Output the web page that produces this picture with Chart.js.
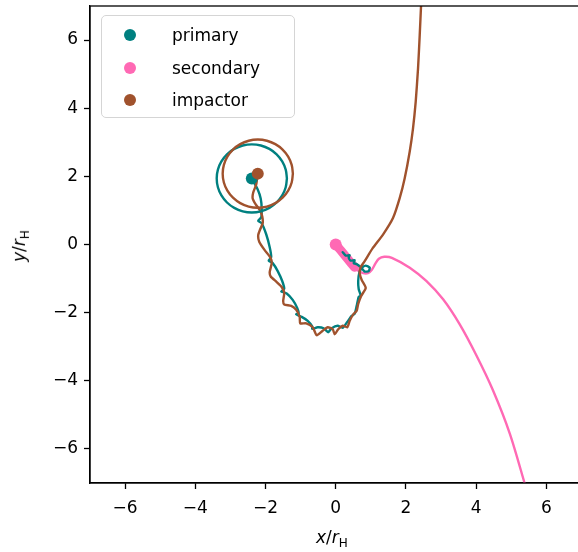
<!DOCTYPE html>
<html>
<head>
<meta charset="utf-8">
<script src="https://cdn.jsdelivr.net/npm/chart.js@4.4.1/dist/chart.umd.min.js"></script>
<style>
  html, body { margin: 0; padding: 0; background: #fff; overflow: hidden; }
  #wrap { position: relative; width: 578px; height: 552px; overflow: hidden; }
  #c { display: block; }
  #legend {
    position: absolute; left: 101px; top: 15px; width: 192px; height: 101px;
    border: 1px solid #d5d5d5; border-radius: 5px; background: rgba(255,255,255,0.85);
    font-family: 'DejaVu Sans', sans-serif; font-size: 17px; color: #000;
  }
  .row { position: absolute; left: 0; height: 24px; line-height: 24px; }
  .dot { position: absolute; left: 22px; top: 6px; width: 12px; height: 12px; border-radius: 50%; }
  .txt { position: absolute; left: 70px; top: 0; white-space: nowrap; }
  .axlabel {
    position: absolute; font-family: 'DejaVu Sans', sans-serif; font-size: 17px; color: #000;
    white-space: nowrap; line-height: 20px;
  }
  .axlabel i { font-style: italic; }
  .axlabel sub { font-size: 12px; vertical-align: -4px; font-style: normal; }
</style>
</head>
<body>
<div id="wrap">
  <canvas id="c" width="600" height="552"></canvas>
  <div id="legend"></div>
  <div class="axlabel" id="xlab" style="left:316px; top:527px;"><i>x</i>/<i>r</i><sub>H</sub></div>
  <div class="axlabel" id="ylab" style="left:6px; top:233px; transform: rotate(-90deg);"><i>y</i>/<i>r</i><sub>H</sub></div>
</div>
<script>
// series names and colours
const names = ['primary', 'secondary', 'impactor']
const colors = ['#008080', '#ff69b4', '#a0522d']

// tick values
const xTicks = [-6, -4, -2, 0, 2, 4, 6]
const yTicks = [-6, -4, -2, 0, 2, 4, 6]

// final positions
const primaryEnd = [[-2.39, 1.94]]
const secondaryEnd = [[0, 0]]
const impactorEnd = [[-2.22, 2.08]]

// primary track
const primaryPath = [
  [-2.393, 1.936], [-2.222, 1.615], [-2.137, 1.352], [-2.108, 1.060], [-2.123, 0.797],
  [-2.208, 0.695], [-2.108, 0.622], [-1.980, 0.301], [-1.880, -0.079], [-1.838, -0.371],
  [-1.909, -0.473], [-1.795, -0.546], [-1.652, -0.780], [-1.524, -1.072], [-1.467, -1.305],
  [-1.553, -1.378], [-1.396, -1.436], [-1.225, -1.626], [-1.097, -1.860], [-1.054, -2.020],
  [-1.125, -2.050], [-0.969, -2.123], [-0.798, -2.239], [-0.670, -2.400], [-0.670, -2.473],
  [-0.513, -2.429], [-0.342, -2.458], [-0.214, -2.575], [-0.114, -2.458], [0.057, -2.385],
  [0.199, -2.444], [0.313, -2.298], [0.456, -2.093], [0.541, -2.035], [0.598, -1.801],
  [0.655, -1.539], [0.712, -1.509], [0.655, -1.305], [0.641, -1.072], [0.670, -0.838],
  [0.741, -0.692], [0.855, -0.619], [0.969, -0.677], [0.940, -0.780], [0.826, -0.794],
  [0.712, -0.663], [0.598, -0.575], [0.513, -0.546], [0.541, -0.458], [0.427, -0.473],
  [0.370, -0.385], [0.399, -0.312], [0.285, -0.327], [0.199, -0.225]
]

// impactor track
const impactorPath = [
  [-2.222, 2.082], [-2.265, 1.761], [-2.350, 1.527], [-2.365, 1.352], [-2.279, 1.177],
  [-2.165, 1.016], [-2.094, 0.826], [-2.080, 0.622], [-2.151, 0.447], [-2.208, 0.272],
  [-2.179, 0.082], [-2.023, -0.166], [-1.866, -0.371], [-1.823, -0.546], [-1.880, -0.809],
  [-1.852, -0.940], [-1.681, -1.101], [-1.538, -1.247], [-1.467, -1.422], [-1.496, -1.655],
  [-1.467, -1.758], [-1.268, -1.801], [-1.125, -1.918], [-1.026, -2.123], [-1.011, -2.312],
  [-0.840, -2.312], [-0.655, -2.429], [-0.541, -2.663], [-0.370, -2.531], [-0.228, -2.429],
  [-0.085, -2.488], [-0.028, -2.634], [0.071, -2.488], [0.199, -2.385], [0.328, -2.429],
  [0.399, -2.239], [0.499, -2.050], [0.598, -1.947], [0.641, -1.743], [0.726, -1.509],
  [0.855, -1.276], [0.741, -1.042], [0.684, -0.838], [0.712, -0.663], [0.826, -0.488],
  [1.054, -0.108], [1.348, 0.292], [1.632, 0.777], [1.823, 1.361], [1.966, 1.945],
  [2.108, 2.724], [2.202, 3.404], [2.279, 4.184], [2.345, 5.156], [2.393, 6.131], [2.436, 7.104]
]

// secondary track: dense early part and escape
const secondaryBlob = [[0, 0], [0.15, -0.18], [0.30, -0.37], [0.45, -0.56], [0.54, -0.67]]
const secondaryPath = [
  [0.54, -0.67], [0.66, -0.78], [0.78, -0.84], [0.92, -0.84], [1.03, -0.74], [1.13, -0.56],
  [1.23, -0.42], [1.38, -0.36], [1.60, -0.39], [2.11, -0.68], [2.58, -1.07], [3.06, -1.61],
  [3.53, -2.34], [4.01, -3.26], [4.48, -4.28], [4.96, -5.55], [5.38, -7.00], [5.43, -7.2]
]

// Hill circles around final positions
const primaryHill = [
  [-1.39, 1.94], [-1.424, 2.199], [-1.524, 2.44], [-1.683, 2.647], [-1.89, 2.806], [-2.131, 2.906],
  [-2.39, 2.94], [-2.649, 2.906], [-2.89, 2.806], [-3.097, 2.647], [-3.256, 2.44], [-3.356, 2.199],
  [-3.39, 1.94], [-3.356, 1.681], [-3.256, 1.44], [-3.097, 1.233], [-2.89, 1.074], [-2.649, 0.974],
  [-2.39, 0.94], [-2.131, 0.974], [-1.89, 1.074], [-1.683, 1.233], [-1.524, 1.44], [-1.424, 1.681],
  [-1.39, 1.94]
]
const impactorHill = [
  [-1.22, 2.08], [-1.254, 2.339], [-1.354, 2.58], [-1.513, 2.787], [-1.72, 2.946], [-1.961, 3.046],
  [-2.22, 3.08], [-2.479, 3.046], [-2.72, 2.946], [-2.927, 2.787], [-3.086, 2.58], [-3.186, 2.339],
  [-3.22, 2.08], [-3.186, 1.821], [-3.086, 1.58], [-2.927, 1.373], [-2.72, 1.214], [-2.479, 1.114],
  [-2.22, 1.08], [-1.961, 1.114], [-1.72, 1.214], [-1.513, 1.373], [-1.354, 1.58], [-1.254, 1.821],
  [-1.22, 2.08]
]

const pts = arr => arr.map(p => ({x: p[0], y: p[1]}))
const minus = v => v < 0 ? '\u2212' + Math.abs(v) : String(v)

function line(data, color, width, order, tension){
  return {
    data: pts(data), showLine: true, borderColor: color, borderWidth: width,
    pointRadius: 0, tension: tension, order: order, borderCapStyle: 'round', borderJoinStyle: 'round'
  }
}
function dot(data, color, order){
  return {
    data: pts(data), showLine: false, pointRadius: 6, pointBackgroundColor: color,
    pointBorderWidth: 0, order: order
  }
}

const frame = {
  id: 'frame',
  afterDraw(chart){
    const a = chart.chartArea, ctx = chart.ctx
    ctx.save()
    ctx.strokeStyle = '#000'
    ctx.lineWidth = 1.3
    ctx.strokeRect(a.left, a.top, a.right - a.left, a.bottom - a.top)
    ctx.restore()
  }
}

const tickFont = {family: 'DejaVu Sans', size: 17}

new Chart(document.getElementById('c'), {
  type: 'scatter',
  data: {
    datasets: [
      line(secondaryBlob, colors[1], 9, 9, 0),
      line(secondaryPath, colors[1], 2.4, 8, 0.3),
      line(primaryPath, colors[0], 2.4, 7, 0.2),
      line(impactorPath, colors[2], 2.4, 6, 0.2),
      line(primaryHill, colors[0], 2.4, 5, 0.4),
      line(impactorHill, colors[2], 2.4, 4, 0.4),
      dot(secondaryEnd, colors[1], 3),
      dot(primaryEnd, colors[0], 2),
      dot(impactorEnd, colors[2], 1)
    ]
  },
  options: {
    responsive: false,
    animation: false,
    layout: {padding: {top: 3.5, right: 18.6, left: 0, bottom: 0}},
    plugins: {legend: {display: false}, tooltip: {enabled: false}},
    scales: {
      x: {
        type: 'linear', min: -7, max: 7,
        afterBuildTicks: s => { s.ticks = xTicks.map(v => ({value: v})) },
        afterFit: s => { s.height = 69; s.paddingLeft = 0; s.paddingRight = 0 },
        ticks: {callback: v => minus(v), font: tickFont, color: '#000', padding: 9, maxRotation: 0, autoSkip: false},
        grid: {drawOnChartArea: false, tickLength: 6, tickWidth: 1.3, color: '#000'},
        border: {color: '#000', width: 1.3}
      },
      y: {
        type: 'linear', min: -7, max: 7,
        afterBuildTicks: s => { s.ticks = yTicks.map(v => ({value: v})) },
        afterFit: s => { s.width = 90; s.paddingTop = 0; s.paddingBottom = 0 },
        ticks: {callback: v => minus(v), font: tickFont, color: '#000', padding: 6, autoSkip: false},
        grid: {drawOnChartArea: false, tickLength: 6, tickWidth: 1.3, color: '#000'},
        border: {color: '#000', width: 1.3}
      }
    }
  },
  plugins: [frame]
})

// legend inside the axes
const legend = document.getElementById('legend')
names.forEach((n, i) => {
  const row = document.createElement('div')
  row.className = 'row'
  row.style.top = (7 + i * 32.5) + 'px'
  row.innerHTML = '<span class="dot" style="background:' + colors[i] + '"></span><span class="txt">' + n + '</span>'
  legend.appendChild(row)
})
</script>
</body>
</html>
